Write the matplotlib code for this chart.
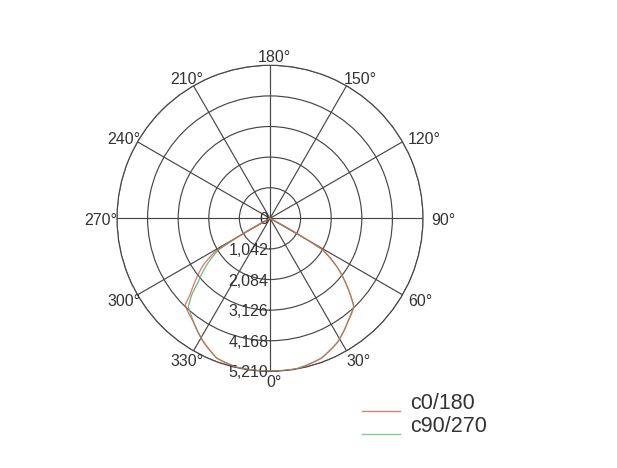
import numpy as np
import matplotlib.pyplot as plt
from matplotlib.lines import Line2D

plt.rcParams['font.family'] = ['Liberation Sans', 'DejaVu Sans']

# luminous intensity curves, angles in degrees (0 = straight down, counter-clockwise,
# negative = left half, i.e. -30 is the 330 degree direction)
c0_angles = [-90, -62, -58.7, -55, -49.8, -46.2, -44.4, -36.6, -28.4, -20.8, -12.5,
             0, 10.5, 20.1, 28.9, 37, 43.5, 48.1, 53.7, 59.1, 62, 90]
c0_values = [0, 0, 2190, 2773, 3344, 3774, 4134, 4383, 4777, 5100, 5200,
             5200, 5200, 5077, 4797, 4410, 4153, 3569, 2874, 2103, 0, 0]

c90_angles = [-90, -62, -58.5, -53.6, -48.5, -45.6, -42.7, -36.6, -28.4, -20.8, -12.5,
              0, 10.5, 20.1, 28.9, 37, 43.5, 48.1, 53.7, 59.1, 62, 90]
c90_values = [0, 0, 2065, 2679, 3259, 3732, 4100, 4370, 4770, 5090, 5190,
              5200, 5195, 5070, 4790, 4400, 4140, 3560, 2860, 2095, 0, 0]

series_names = ['c0/180', 'c90/270']
series_colors = ['#d9604a', '#62bb8e']

r_max = 5210
ring_values = [0, 1042, 2084, 3126, 4168, 5210]
ring_labels = ['0', '1,042', '2,084', '3,126', '4,168', '5,210']
angle_ticks = list(range(0, 360, 30))

fig = plt.figure(figsize=(6.17, 4.68), dpi=100)
ax = fig.add_axes([0.1896, 0.2065, 0.496, 0.654], projection='polar')
ax.set_theta_zero_location('S')
ax.set_theta_direction(1)
ax.set_ylim(0, r_max)
ax.set_yticks(ring_values[1:])
ax.set_yticklabels([])
ax.set_thetagrids(angle_ticks, labels=[])
ax.grid(color='#474747', linewidth=0.85)
ax.spines['polar'].set_color('#474747')
ax.spines['polar'].set_linewidth(0.85)

l90, = ax.plot(np.deg2rad(c90_angles), c90_values, color=series_colors[1],
               linewidth=0.9, zorder=3)
l0, = ax.plot(np.deg2rad(c0_angles), c0_values, color=series_colors[0],
              linewidth=0.9, alpha=0.85, zorder=4)
# draw segments as curves in polar space instead of straight chords
for ln in (l0, l90):
    ln.get_path()._interpolation_steps = 24

# angle labels around the outer ring
px = 0.72  # points per pixel at dpi 100
for a in angle_ticks:
    t = np.deg2rad(a)
    hw = (0.556 * len(str(a)) + 0.4) * 16 / 2
    dx = 4 + np.sin(t) * (hw + 4)
    dy = -(9.5 * np.cos(t) + 0.5)
    ax.annotate(f'{a}°', xy=(t, r_max), xytext=(dx * px, dy * px),
                textcoords='offset points', ha='center', va='center_baseline',
                fontsize=11.5, color='#333333', annotation_clip=False)

# radial labels along the 0 degree line
for v, lab in zip(ring_values, ring_labels):
    ax.annotate(lab, xy=(0, v), xytext=(-1, 0), textcoords='offset points',
                ha='right', va='center_baseline', fontsize=11.5, color='#333333',
                annotation_clip=False)

# legend, drawn by hand so the sample line sits at the text baseline
W, H = 617, 468
for i, (name, col) in enumerate(zip(series_names, series_colors)):
    y = 409 + 23 * i
    fig.add_artist(Line2D([362 / W, 400 / W], [1 - (y + 2) / H] * 2, color=col,
                          linewidth=1.0, alpha=0.8, transform=fig.transFigure))
    fig.text(410 / W, 1 - y / H, name, fontsize=15.5, color='#333333',
             ha='left', va='baseline')

fig.savefig('out.png', dpi=100)
